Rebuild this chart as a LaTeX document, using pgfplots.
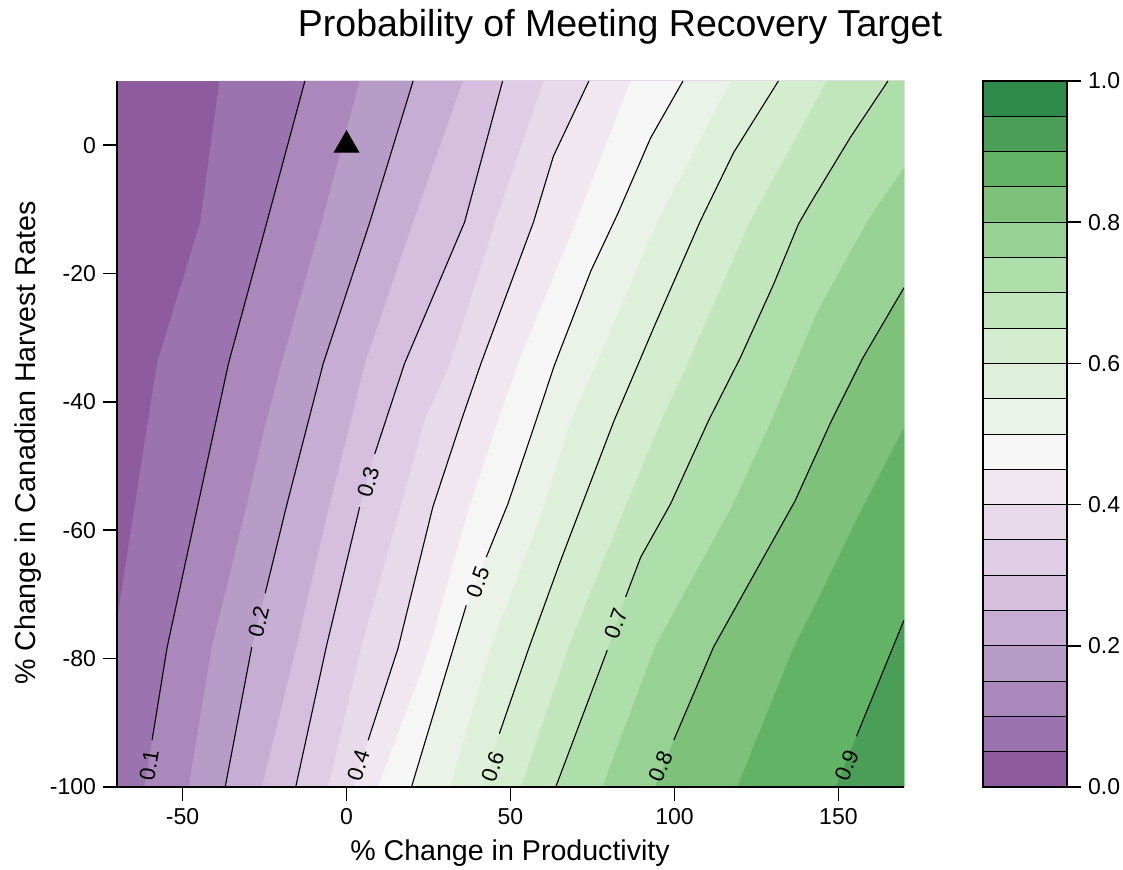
\documentclass[border=0pt]{standalone}
\usepackage{fontspec}
\setmainfont{Liberation Sans}
\usepackage{pgfplots}
\pgfplotsset{compat=1.18}
\definecolor{c0}{HTML}{8E5B9F}
\definecolor{c1}{HTML}{9B74AF}
\definecolor{c2}{HTML}{AA88BB}
\definecolor{c3}{HTML}{B89CC8}
\definecolor{c4}{HTML}{C6ADD3}
\definecolor{c5}{HTML}{D5BEDE}
\definecolor{c6}{HTML}{DFCCE5}
\definecolor{c7}{HTML}{E8DAEB}
\definecolor{c8}{HTML}{F0E7F1}
\definecolor{c9}{HTML}{F6F6F6}
\definecolor{c10}{HTML}{EBF3E8}
\definecolor{c11}{HTML}{DFF0DA}
\definecolor{c12}{HTML}{D3EDCE}
\definecolor{c13}{HTML}{C1E6BC}
\definecolor{c14}{HTML}{AEDEA9}
\definecolor{c15}{HTML}{98D194}
\definecolor{c16}{HTML}{7DC17A}
\definecolor{c17}{HTML}{62B366}
\definecolor{c18}{HTML}{4A9E57}
\definecolor{c19}{HTML}{2E8A48}
\begin{document}
\begin{tikzpicture}
\path[use as bounding box] (-58.5pt,-41pt) rectangle (503pt,393.5pt);
\begin{axis}[
  at={(0pt,0pt)}, anchor=south west,
  scale only axis, width=393.5pt, height=353pt,
  xmin=-70, xmax=170, ymin=-100, ymax=10,
  axis x line*=bottom, axis y line*=left,
  axis line style={line width=0.8pt, black, -},
  xtick={-50,0,50,100,150}, ytick={-100,-80,-60,-40,-20,0},
  tick align=outside, major tick length=7pt,
  tick style={line width=0.8pt, black},
  ticklabel style={font=\fontsize{11.5}{13}\selectfont},
  /pgf/number format/assume math mode=true,
  xlabel={\% Change in Productivity},
  ylabel={\% Change in Canadian Harvest Rates},
  xlabel style={at={(axis description cs:0.4994,-0.0935)}, anchor=center, font=\fontsize{14.3}{16}\selectfont},
  ylabel style={at={(axis description cs:-0.1131,0.487)}, anchor=center, font=\fontsize{14.3}{16}\selectfont},
  axis on top,
]
% filled bands: region at or above each level
\addplot[draw=none, fill=c0, forget plot] coordinates {(-70,-100)(170,-100)(170,10)(-70,10)} -- cycle;
\addplot[draw=none, fill=c1, forget plot] coordinates {(-70,-74.0)(-57.8,-34)(-44.6,-12)(-38.8,10)(170,10)(170,-100)(-70,-100)} -- cycle;
\addplot[draw=none, fill=c2, forget plot] coordinates {(-12.7,10)(-24.3,-12)(-36.0,-34)(-45.3,-56)(-54.7,-78.2)(-59.3,-92.7)(-61.6,-100)(170,-100)(170,10)} -- cycle;
\addplot[draw=none, fill=c3, forget plot] coordinates {(4.0,10)(-7.6,-12)(-19.8,-34)(-25.2,-44.5)(-30.4,-56)(-41.0,-78)(-48.1,-100)(170,-100)(170,10)} -- cycle;
\addplot[draw=none, fill=c4, forget plot] coordinates {(20.3,10)(7.1,-12)(-7.1,-34)(-18.2,-56)(-24.8,-69.8)(-28.9,-78.2)(-37.0,-100)(170,-100)(170,10)} -- cycle;
\addplot[draw=none, fill=c5, forget plot] coordinates {(35.5,10)(20.3,-12)(5.6,-34)(0.6,-44.5)(-5.2,-56)(-15.2,-78)(-25.8,-100)(170,-100)(170,10)} -- cycle;
\addplot[draw=none, fill=c6, forget plot] coordinates {(47.6,10)(36.0,-12)(17.7,-34)(8.6,-48.1)(4.0,-56.4)(-6.1,-78)(-15.5,-100)(170,-100)(170,10)} -- cycle;
\addplot[draw=none, fill=c7, forget plot] coordinates {(60.1,10)(45.3,-12)(31.6,-34)(23.8,-42.9)(16.7,-56)(4.6,-78)(-5.6,-100)(170,-100)(170,10)} -- cycle;
\addplot[draw=none, fill=c8, forget plot] coordinates {(73.9,10)(63.1,-1.7)(57.0,-12)(41.0,-34)(35.0,-42.9)(26.3,-56.4)(15.7,-78.4)(6.6,-92.7)(2.0,-100)(170,-100)(170,10)} -- cycle;
\addplot[draw=none, fill=c9, forget plot] coordinates {(86.6,10)(69.9,-12)(52.3,-34)(46.2,-42.9)(37.1,-56.9)(24.8,-79.2)(9.6,-100)(170,-100)(170,10)} -- cycle;
\addplot[draw=none, fill=c10, forget plot] coordinates {(102.6,10)(92.7,1.1)(82.6,-10.8)(74.5,-19.6)(63.3,-34.4)(57.8,-42.9)(49.2,-55.9)(42.6,-64.2)(36.5,-71.7)(19.8,-100)(170,-100)(170,10)} -- cycle;
\addplot[draw=none, fill=c11, forget plot] coordinates {(117.2,10)(94.7,-12)(76.3,-34)(68.4,-42.9)(60.5,-56)(44.2,-78)(31.6,-100)(170,-100)(170,10)} -- cycle;
\addplot[draw=none, fill=c12, forget plot] coordinates {(131.7,10)(118.1,-1.1)(107.9,-11.8)(93.7,-28.4)(81.6,-42.9)(65.3,-64.7)(55.7,-78.2)(46.6,-91.7)(41.5,-100)(170,-100)(170,10)} -- cycle;
\addplot[draw=none, fill=c13, forget plot] coordinates {(146.5,10)(122.9,-12)(104.1,-34)(96.0,-42.9)(85.3,-56)(67.8,-78)(53.2,-100)(170,-100)(170,10)} -- cycle;
\addplot[draw=none, fill=c14, forget plot] coordinates {(165.1,10)(153.5,1.1)(141.3,-9.2)(137.8,-12.3)(130.2,-21.7)(120.1,-33.1)(110.4,-42.9)(98.8,-55.9)(89.7,-64.2)(85.1,-70.4)(79.5,-78.7)(63.8,-100)(170,-100)(170,10)} -- cycle;
\addplot[draw=none, fill=c15, forget plot] coordinates {(170,-3.5)(158.9,-11.8)(143.7,-25.8)(129.6,-42.9)(117.8,-56.0)(94.2,-78.0)(78.0,-100)(170,-100)} -- cycle;
\addplot[draw=none, fill=c16, forget plot] coordinates {(170,-22.2)(157.5,-33.1)(147.9,-42.9)(136.8,-55.4)(111.9,-78.2)(99.8,-92.7)(94.0,-100)(170,-100)} -- cycle;
\addplot[draw=none, fill=c17, forget plot] coordinates {(170,-44.0)(155.8,-58.0)(144.6,-69.9)(136.4,-78.2)(119.1,-100)(170,-100)} -- cycle;
\addplot[draw=none, fill=c18, forget plot] coordinates {(170,-74.0)(155.5,-92.1)(149.2,-100)(170,-100)} -- cycle;
% contour lines
\pgfplotsset{every axis plot/.append style={line width=0.55pt}}
\addplot[black] coordinates {(-12.7,10)(-24.3,-12)(-36.0,-34)(-45.3,-56)(-54.7,-78.2)(-59.3,-92.7)};
\addplot[black] coordinates {(20.3,10)(7.1,-12)(-7.1,-34)(-18.2,-56)(-24.8,-69.8)};
\addplot[black] coordinates {(-28.9,-78.2)(-37.0,-100)};
\addplot[black] coordinates {(47.6,10)(36.0,-12)(17.7,-34)(8.6,-48.1)};
\addplot[black] coordinates {(4.0,-56.4)(-6.1,-78)(-15.5,-100)};
\addplot[black] coordinates {(73.9,10)(63.1,-1.7)(57.0,-12)(41.0,-34)(35.0,-42.9)(26.3,-56.4)(15.7,-78.4)(6.6,-92.7)};
\addplot[black] coordinates {(102.6,10)(92.7,1.1)(82.6,-10.8)(74.5,-19.6)(63.3,-34.4)(57.8,-42.9)(49.2,-55.9)(42.6,-64.2)};
\addplot[black] coordinates {(36.5,-71.7)(19.8,-100)};
\addplot[black] coordinates {(131.7,10)(118.1,-1.1)(107.9,-11.8)(93.7,-28.4)(81.6,-42.9)(65.3,-64.7)(55.7,-78.2)(46.6,-91.7)};
\addplot[black] coordinates {(165.1,10)(153.5,1.1)(141.3,-9.2)(137.8,-12.3)(130.2,-21.7)(120.1,-33.1)(110.4,-42.9)(98.8,-55.9)(89.7,-64.2)(85.1,-70.4)};
\addplot[black] coordinates {(79.5,-78.7)(63.8,-100)};
\addplot[black] coordinates {(170,-22.2)(157.5,-33.1)(147.9,-42.9)(136.8,-55.4)(111.9,-78.2)(99.8,-92.7)};
\addplot[black] coordinates {(170,-74.0)(155.5,-92.1)};
% contour labels
\begin{scope}[every node/.style={font=\fontsize{11}{12}\selectfont, inner sep=0pt}]
\node[rotate=81] at (axis cs:-60.2,-96.6) {0.1};
\node[rotate=76] at (axis cs:-26.8,-74.3) {0.2};
\node[rotate=74] at (axis cs:6.6,-52.5) {0.3};
\node[rotate=72] at (axis cs:3.6,-96.6) {0.4};
\node[rotate=70] at (axis cs:40.0,-68.1) {0.5};
\node[rotate=71] at (axis cs:44.6,-96.8) {0.6};
\node[rotate=70] at (axis cs:82.1,-74.5) {0.7};
\node[rotate=67] at (axis cs:95.7,-96.8) {0.8};
\node[rotate=68] at (axis cs:152.5,-96.6) {0.9};
\end{scope}
% status quo point
\addplot[only marks, mark=triangle*, mark size=7pt, black] coordinates {(0,0)};
\end{axis}
% title
\node[anchor=center, inner sep=0pt, font=\fontsize{18.75}{22}\selectfont] at (251.5pt,380pt) {Probability of Meeting Recovery Target};
\begin{axis}[
  at={(433pt,0pt)}, anchor=south west,
  scale only axis, width=42pt, height=353pt,
  xmin=0, xmax=1, ymin=0, ymax=1,
  xtick=\empty, ytick={0,0.2,0.4,0.6,0.8,1},
  ytick pos=right, yticklabel pos=right,
  tick align=outside, major tick length=7pt,
  tick style={line width=0.8pt, black},
  axis line style={line width=0.6pt},
  ticklabel style={font=\fontsize{11.5}{13}\selectfont},
  yticklabel style={/pgf/number format/.cd, fixed, fixed zerofill, precision=1},
  /pgf/number format/assume math mode=true,
  axis on top,
]
\pgfplotsset{every axis plot/.append style={draw=black, line width=0.5pt, forget plot}}
\addplot[fill=c0] coordinates {(0,0)(1,0)(1,0.05)(0,0.05)} -- cycle;
\addplot[fill=c1] coordinates {(0,0.05)(1,0.05)(1,0.10)(0,0.10)} -- cycle;
\addplot[fill=c2] coordinates {(0,0.10)(1,0.10)(1,0.15)(0,0.15)} -- cycle;
\addplot[fill=c3] coordinates {(0,0.15)(1,0.15)(1,0.20)(0,0.20)} -- cycle;
\addplot[fill=c4] coordinates {(0,0.20)(1,0.20)(1,0.25)(0,0.25)} -- cycle;
\addplot[fill=c5] coordinates {(0,0.25)(1,0.25)(1,0.30)(0,0.30)} -- cycle;
\addplot[fill=c6] coordinates {(0,0.30)(1,0.30)(1,0.35)(0,0.35)} -- cycle;
\addplot[fill=c7] coordinates {(0,0.35)(1,0.35)(1,0.40)(0,0.40)} -- cycle;
\addplot[fill=c8] coordinates {(0,0.40)(1,0.40)(1,0.45)(0,0.45)} -- cycle;
\addplot[fill=c9] coordinates {(0,0.45)(1,0.45)(1,0.50)(0,0.50)} -- cycle;
\addplot[fill=c10] coordinates {(0,0.50)(1,0.50)(1,0.55)(0,0.55)} -- cycle;
\addplot[fill=c11] coordinates {(0,0.55)(1,0.55)(1,0.60)(0,0.60)} -- cycle;
\addplot[fill=c12] coordinates {(0,0.60)(1,0.60)(1,0.65)(0,0.65)} -- cycle;
\addplot[fill=c13] coordinates {(0,0.65)(1,0.65)(1,0.70)(0,0.70)} -- cycle;
\addplot[fill=c14] coordinates {(0,0.70)(1,0.70)(1,0.75)(0,0.75)} -- cycle;
\addplot[fill=c15] coordinates {(0,0.75)(1,0.75)(1,0.80)(0,0.80)} -- cycle;
\addplot[fill=c16] coordinates {(0,0.80)(1,0.80)(1,0.85)(0,0.85)} -- cycle;
\addplot[fill=c17] coordinates {(0,0.85)(1,0.85)(1,0.90)(0,0.90)} -- cycle;
\addplot[fill=c18] coordinates {(0,0.90)(1,0.90)(1,0.95)(0,0.95)} -- cycle;
\addplot[fill=c19] coordinates {(0,0.95)(1,0.95)(1,1.00)(0,1.00)} -- cycle;
\end{axis}
\end{tikzpicture}
\end{document}
